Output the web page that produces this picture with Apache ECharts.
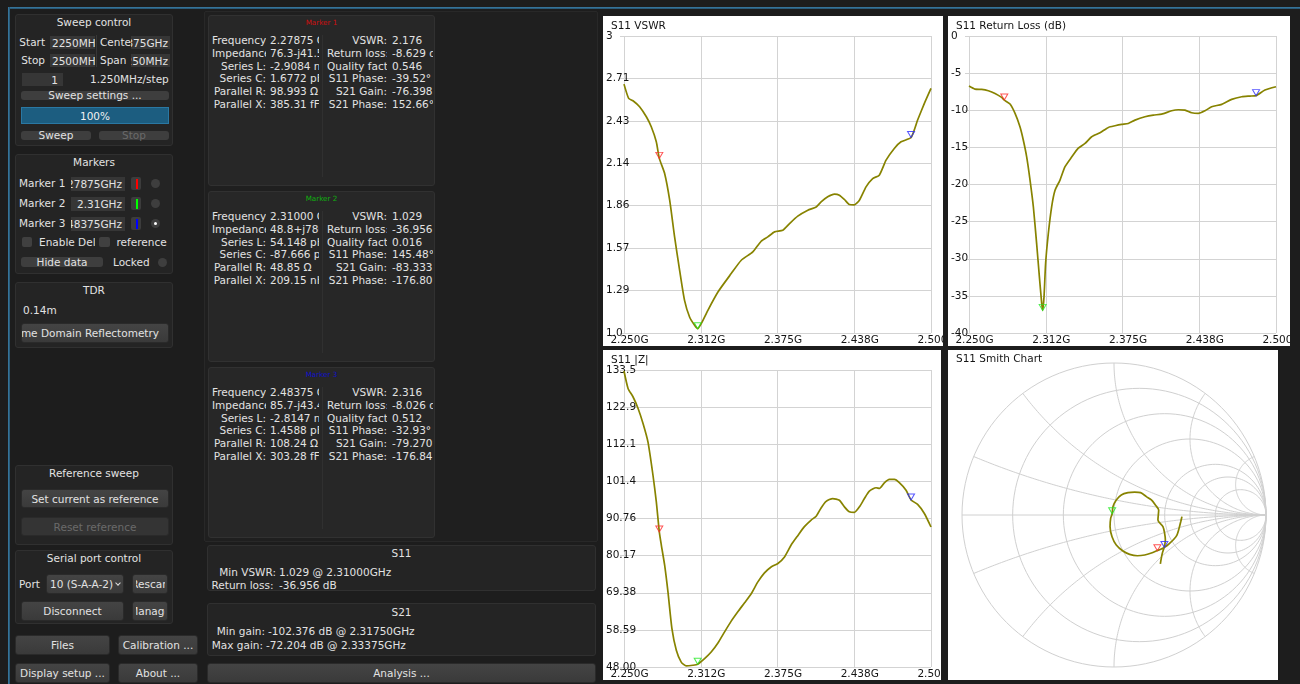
<!DOCTYPE html>
<html>
<head>
<meta charset="utf-8">
<title>NanoVNA-Saver</title>
<script src="https://cdn.jsdelivr.net/npm/echarts@6/dist/echarts.min.js"></script>
<style>
html,body{margin:0;padding:0}
body{width:1300px;height:684px;background:#1d1d1d;position:relative;overflow:hidden;
  font-family:'DejaVu Sans',sans-serif;font-size:10.5px;color:#e2e2e2}
.p{position:absolute;box-sizing:border-box;white-space:nowrap}
.box{background:#242424;border:1px solid #303030;border-radius:3px}
.txt{line-height:13px;height:13px}
.fld{background:#363636;overflow:hidden;display:flex;align-items:center;padding:0 2px}
.btn{background:linear-gradient(#444444,#3a3a3a);border:1px solid #2a2a2a;border-radius:3px;
  display:flex;align-items:center;justify-content:center;overflow:hidden}
.inner{overflow:hidden;display:flex;justify-content:center;white-space:nowrap}
.flat{background:#3e3e3e;border-radius:3px;display:flex;align-items:center;justify-content:center;line-height:9px}
.dis{color:#6a6a6a}
.btn.dis{background:#343434}
.chk{background:#404040;border-radius:2px}
.rad{background:#3e3e3e;border-radius:50%}
.chart{position:absolute;background:#ffffff;overflow:hidden}
</style>
</head>
<body>
<div id="ui"></div>
<div id="vswr" class="chart" style="left:603px;top:16px;width:340px;height:330px"></div>
<div id="rloss" class="chart" style="left:948px;top:16px;width:342px;height:330px"></div>
<div id="zmag" class="chart" style="left:603px;top:350px;width:338px;height:330px"></div>
<div id="smith" class="chart" style="left:948px;top:350px;width:330px;height:330px"></div>
<script>
// ---- sweep: 2250 MHz .. 2500 MHz ----
const freqMin = 2250;
const freqMax = 2500;
const freqStep = 62.5;
const freqTickLabels = ['2.250G', '2.312G', '2.375G', '2.438G', '2.500G'];

// S11 VSWR trace
const vswrFreq = [2250, 2253.8, 2257.3, 2262.7, 2268.2, 2272.2, 2276.3, 2278.75, 2283.1, 2287.2, 2291.2, 2295.3,
  2299.3, 2303.4, 2307.5, 2310, 2312.9, 2318.3, 2326.5, 2337.3, 2345.5, 2354.9, 2361.7, 2367.1, 2372.6, 2379.3,
  2384.8, 2391.5, 2399.7, 2406.5, 2410.5, 2415.9, 2421.4, 2425.4, 2429.5, 2433.5, 2437.6, 2441.7, 2447.1, 2452.5,
  2457.9, 2463.4, 2470.1, 2475.6, 2483.75, 2489.1, 2494.6, 2500];
const vswrValue = [2.676, 2.580, 2.564, 2.524, 2.456, 2.389, 2.288, 2.176, 2.074, 1.894, 1.647, 1.422,
  1.22, 1.108, 1.052, 1.029, 1.063, 1.153, 1.276, 1.40, 1.49, 1.546, 1.618, 1.647, 1.681, 1.692,
  1.737, 1.787, 1.827, 1.849, 1.883, 1.917, 1.935, 1.928, 1.899, 1.865, 1.863, 1.894, 1.984, 2.04,
  2.063, 2.164, 2.243, 2.288, 2.316, 2.434, 2.546, 2.647];
const vswrTicks = [1.0, 1.2857, 1.5714, 1.8571, 2.1429, 2.4286, 2.7143, 3.0];
const vswrTickLabels = ['1.0', '1.29', '1.57', '1.86', '2.14', '2.43', '2.71', '3'];

// S11 return loss trace (dB)
const rlFreq = [2250, 2254.9, 2260.3, 2265.7, 2271.2, 2276.6, 2278.75, 2283.4, 2287.5, 2291.5, 2294.2, 2297,
  2299.7, 2302.4, 2305.1, 2307.3, 2309.2, 2310, 2311.1, 2312.4, 2314.6, 2317.3, 2320, 2324.1, 2328.2, 2333.6,
  2339, 2344.5, 2349.9, 2356.7, 2363.5, 2368.9, 2374.3, 2379.7, 2385.2, 2393.3, 2400.1, 2406.9, 2415, 2420.5,
  2425.9, 2431.3, 2436.8, 2442.2, 2447.6, 2455.8, 2463.9, 2472.1, 2478.8, 2483.75, 2491, 2500];
const rlValue = [-6.74, -7.15, -7.19, -7.37, -7.73, -8.27, -8.629, -9.17, -10.43, -12.22, -14.0, -16.3,
  -19.4, -23.0, -28.0, -32.4, -36.0, -36.956, -35.1, -30.6, -26.6, -23.0, -20.8, -19.4, -17.6, -16.3,
  -15.1, -14.47, -13.57, -13.03, -12.31, -12.09, -11.91, -11.78, -11.33, -10.88, -10.65, -10.52, -10.07, -9.93,
  -9.98, -10.34, -10.43, -10.07, -9.53, -9.21, -8.54, -8.18, -8.09, -8.026, -7.28, -6.83];

// S11 |Z| trace (ohm)
const zFreq = [2250, 2253.3, 2257.3, 2261.4, 2265.5, 2269.5, 2273.6, 2276.3, 2278.75, 2280.4, 2283.1, 2285.8,
  2289, 2292.6, 2296.6, 2300.7, 2306.1, 2310, 2315.6, 2321, 2326.5, 2331.9, 2337.3, 2342.7, 2348.2, 2353.6,
  2359, 2364.4, 2369.8, 2375.3, 2380.7, 2386.1, 2391.5, 2396.9, 2402.4, 2406.5, 2410.5, 2414.6, 2420, 2425.4,
  2429.5, 2433.5, 2437.6, 2441.7, 2445.8, 2449.8, 2455.3, 2458, 2462, 2466.1, 2470.2, 2474.2, 2479.7, 2483.75,
  2489.1, 2494.6, 2500];
const zValue = [133.2, 128.2, 125.8, 122.5, 118.1, 112.8, 103.2, 95.6, 86.9, 83.1, 77.3, 69.6,
  59.1, 52.8, 49.4, 48.3, 48.5, 48.8, 50.4, 52.3, 54.9, 58.1, 61.2, 63.9, 66.5, 69.1,
  72.5, 75.1, 76.8, 77.8, 79.7, 83.1, 85.8, 88.4, 90.3, 91.4, 93.8, 95.7, 96.5, 96.0,
  94.1, 92.7, 92.5, 94.1, 96.5, 98.6, 99.6, 99.4, 101.0, 102.0, 102.0, 101.1, 98.9, 96.1,
  94.8, 92.2, 88.3];
const zTicks = [48, 58.6875, 69.375, 80.0625, 90.75, 101.4375, 112.125, 122.8125, 133.5];
const zTickLabels = ['48.00', '58.59', '69.38', '80.17', '90.76', '101.4', '112.1', '122.9', '133.5'];

// S11 reflection coefficient (Smith chart trace), start -> stop
const smithRe = [0.447, 0.439, 0.428, 0.414, 0.395, 0.366, 0.340, 0.311, 0.283, 0.246, 0.202, 0.154, 0.103,
  0.059, 0.015, -0.013, -0.026, -0.022, -0.012, -0.007, 0.015, 0.048, 0.092, 0.136, 0.175, 0.213, 0.246,
  0.272, 0.294, 0.289, 0.322, 0.333, 0.338, 0.330, 0.318, 0.311, 0.305];
const smithIm = [-0.011, -0.044, -0.088, -0.132, -0.158, -0.186, -0.208, -0.224, -0.235, -0.250, -0.263, -0.268, -0.259,
  -0.237, -0.197, -0.143, -0.077, -0.022, 0.008, 0.055, 0.099, 0.132, 0.147, 0.151, 0.147, 0.121, 0.099,
  0.066, 0.033, -0.033, -0.077, -0.121, -0.164, -0.212, -0.252, -0.285, -0.322];
const smithResistance = [0, 0.2, 0.5, 1, 2, 3, 5];
const smithReactance = [0.2, 0.5, 1, 2, 5];

// markers
const markerFreq = [2278.75, 2310, 2483.75];
const markerVswr = [2.176, 1.029, 2.316];
const markerRl = [-8.629, -36.956, -8.026];
const markerR = [76.3, 48.8, 85.7];
const markerX = [-41.5, 0.78, -43.4];
const markerColors = ['#ff2a2a', '#22e822', '#2a2aff'];

// ---------------- application panels ----------------
const ui = document.getElementById('ui');
function put(x, y, w, h, cls, text, css) {
  const d = document.createElement('div');
  d.className = 'p ' + (cls || '');
  d.style.left = x + 'px';
  d.style.top = y + 'px';
  if (w != null) d.style.width = w + 'px';
  if (h != null) d.style.height = h + 'px';
  if (text != null) d.textContent = text;
  if (css) d.style.cssText += ';' + css;
  ui.appendChild(d);
  return d;
}
function txt(x, cy, text, css) { return put(x, cy - 6.5, null, 13, 'txt', text, css); }
function ctxt(x, w, cy, text, css) { return put(x, cy - 6.5, w, 13, 'txt', text, 'text-align:center;' + (css || '')); }
// push button whose caption is clipped inside its padding
function narrowBtn(x, y, w, h, text, pad) {
  const b = put(x, y, w, h, 'btn');
  const i = document.createElement('div');
  i.className = 'inner';
  i.style.width = (w - 2 - 2 * pad) + 'px';
  i.textContent = text;
  b.appendChild(i);
  return b;
}

// window frame
put(8, 7, 1292, 2, '', null, 'background:linear-gradient(#3b7fa8,#24506b)');
put(8, 7, 2, 677, '', null, 'background:linear-gradient(90deg,#3b7fa8,#24506b)');

// Sweep control
put(15, 14, 158, 132, 'box');
ctxt(15, 158, 22.5, 'Sweep control');
txt(10, 42.5, 'Start', 'width:35px;text-align:right');
put(50, 36, 45, 13, 'fld', '2250MHz');
put(96, 35, 1, 32, '', null, 'background:#383838');
txt(100, 42.5, 'Center');
put(131, 36, 39, 13, 'fld', '2.375GHz', 'justify-content:flex-end');
txt(10, 60.5, 'Stop', 'width:35px;text-align:right');
put(50, 54, 45, 13, 'fld', '2500MHz');
txt(100, 60.5, 'Span');
put(131, 54, 39, 13, 'fld', '250MHz', 'justify-content:flex-end');
put(22, 73, 41, 13, 'fld', '1', 'justify-content:flex-end;padding-right:5px');
txt(90, 79.5, '1.250MHz/step');
put(21, 91, 148, 9, 'flat', 'Sweep settings ...');
put(21, 107, 148, 17, '', '100%', 'background:#1c5d80;border:1px solid #2a78a3;display:flex;align-items:center;justify-content:center;color:#f2f2f2');
put(21, 131, 70, 9, 'flat', 'Sweep');
put(99, 131, 70, 9, 'flat dis', 'Stop');

// Markers
put(15, 154, 158, 120, 'box');
ctxt(15, 158, 162.7, 'Markers');
const markerFieldText = ['2.27875GHz', '2.31GHz', '2.48375GHz'];
for (let i = 0; i < 3; i++) {
  const cy = 183.5 + 20 * i;
  txt(19, cy, 'Marker ' + (i + 1));
  put(71, cy - 7, 54, 14.5, 'fld', markerFieldText[i], 'justify-content:flex-end;padding-right:3px');
  put(131, cy - 6.5, 10, 13, '', null, 'background:#3c3c3c;border-radius:2px');
  put(135.5, cy - 5, 2.5, 10, '', null, 'background:' + ['#ff0000', '#00ff00', '#0000ff'][i]);
  put(151, cy - 4.5, 9, 9, 'rad');
}
put(154, 222, 3, 3, '', null, 'background:#ffffff;border-radius:50%');
put(22, 237, 10, 10, 'chk');
put(39, 235.5, 56, 13, 'txt', 'Enable Delta Marker', 'overflow:hidden');
put(99, 237, 11, 10, 'chk');
txt(116.5, 242, 'reference');
put(21, 257, 82, 10, 'flat', 'Hide data');
txt(113, 262, 'Locked');
put(158, 257.5, 9, 9, 'rad');

// TDR
put(15, 282, 158, 66, 'box');
ctxt(15, 158, 290.5, 'TDR');
txt(23, 310, '0.14m');
put(21, 323, 148, 20, 'btn', 'Time Domain Reflectometry', 'justify-content:flex-end;padding-right:9px');

// Reference sweep
put(15, 465, 158, 80, 'box');
ctxt(15, 158, 473.5, 'Reference sweep');
put(21, 489, 148, 19, 'btn', 'Set current as reference');
put(21, 517, 148, 19, 'btn dis', 'Reset reference');

// Serial port control
put(15, 550, 158, 74, 'box');
ctxt(15, 158, 558.5, 'Serial port control');
txt(19, 584, 'Port');
put(46, 574, 78, 20, 'btn', '10 (S-A-A-2)', 'justify-content:flex-start;padding-left:3px');
put(116, 581, 4, 4, '', null, 'border-right:1px solid #dddddd;border-bottom:1px solid #dddddd;transform:rotate(45deg)');
narrowBtn(132, 574, 36, 20, 'Rescan', 2.5);
put(21, 601, 103, 20, 'btn', 'Disconnect');
narrowBtn(132, 601, 36, 20, 'Manage', 2.5);

// bottom buttons
put(15, 635, 95, 20, 'btn', 'Files');
put(118, 635, 80, 20, 'btn', 'Calibration ...');
put(15, 663, 95, 20, 'btn', 'Display setup ...');
put(118, 663, 80, 20, 'btn', 'About ...');

// marker readouts
put(204, 11, 394, 531, '', null, 'background:#1f1f1f;border:1px solid #282828;border-radius:2px');
const readouts = [
  { title: 'Marker 1', color: '#cc0f0f',
    left: [['Frequency:', '2.27875 GHz'], ['Impedance:', '76.3-j41.5 Ω'], ['Series L:', '-2.9084 nH'],
           ['Series C:', '1.6772 pF'], ['Parallel R:', '98.993 Ω'], ['Parallel X:', '385.31 fF']],
    right: [['VSWR:', '2.176'], ['Return loss:', '-8.629 dB'], ['Quality factor:', '0.546'],
            ['S11 Phase:', '-39.52°'], ['S21 Gain:', '-76.398 dB'], ['S21 Phase:', '152.66°']] },
  { title: 'Marker 2', color: '#10b010',
    left: [['Frequency:', '2.31000 GHz'], ['Impedance:', '48.8+j780m Ω'], ['Series L:', '54.148 pH'],
           ['Series C:', '-87.666 pF'], ['Parallel R:', '48.85 Ω'], ['Parallel X:', '209.15 nH']],
    right: [['VSWR:', '1.029'], ['Return loss:', '-36.956 dB'], ['Quality factor:', '0.016'],
            ['S11 Phase:', '145.48°'], ['S21 Gain:', '-83.333 dB'], ['S21 Phase:', '-176.80°']] },
  { title: 'Marker 3', color: '#1010cc',
    left: [['Frequency:', '2.48375 GHz'], ['Impedance:', '85.7-j43.4 Ω'], ['Series L:', '-2.8147 nH'],
           ['Series C:', '1.4588 pF'], ['Parallel R:', '108.24 Ω'], ['Parallel X:', '303.28 fF']],
    right: [['VSWR:', '2.316'], ['Return loss:', '-8.026 dB'], ['Quality factor:', '0.512'],
            ['S11 Phase:', '-32.93°'], ['S21 Gain:', '-79.270 dB'], ['S21 Phase:', '-176.84°']] }
];
readouts.forEach((m, k) => {
  const top = 15 + 176 * k;
  put(208, top, 227, 171, '', null, 'background:#272727;border:1px solid #313131;border-radius:3px');
  put(208, top + 3, 227, 10, '', m.title, 'text-align:center;font-size:7.2px;line-height:10px;color:' + m.color);
  put(322, top + 20, 1, 142, '', null, 'background:#303030');
  for (let i = 0; i < 6; i++) {
    const cy = top + 25.3 + 12.85 * i;
    put(212, cy - 6.5, 54, 13, 'txt', m.left[i][0], 'text-align:right;overflow:hidden');
    put(270, cy - 6.5, 49, 13, 'txt', m.left[i][1], 'overflow:hidden');
    put(327, cy - 6.5, 60, 13, 'txt', m.right[i][0], 'text-align:right;overflow:hidden');
    put(392, cy - 6.5, 41, 13, 'txt', m.right[i][1], 'overflow:hidden');
  }
});

// S11 / S21 summaries
put(207, 545, 389, 46, 'box');
ctxt(207, 389, 553, 'S11');
put(200, 565.5, 76, 13, 'txt', 'Min VSWR:', 'text-align:right');
txt(279, 572, '1.029 @ 2.31000GHz');
put(200, 578.5, 73.5, 13, 'txt', 'Return loss:', 'text-align:right');
txt(279, 585, '-36.956 dB');
put(207, 603, 389, 53, 'box');
ctxt(207, 389, 612, 'S21');
put(200, 624.5, 65, 13, 'txt', 'Min gain:', 'text-align:right');
txt(268, 631, '-102.376 dB @ 2.31750GHz');
put(200, 638.5, 63, 13, 'txt', 'Max gain:', 'text-align:right');
txt(266, 645, '-72.204 dB @ 2.33375GHz');
put(207, 663, 389, 20, 'btn', 'Analysis ...');

// ---------------- charts ----------------
const FONT = 'DejaVu Sans';
const FS = 10.5;
const TRACE = '#878300';
const GRIDC = '#d3d3d3';
const TEXTC = '#141414';
const markerSymbol = 'path://M0,0L10,0L5,9Z';

function nearestLabel(ticks, labels, v) {
  let best = 0;
  for (let i = 1; i < ticks.length; i++) {
    if (Math.abs(ticks[i] - v) < Math.abs(ticks[best] - v)) best = i;
  }
  return labels[best];
}

function markerSeries(points) {
  return {
    type: 'scatter',
    data: points.map((p, i) => ({ value: p, itemStyle: { borderColor: markerColors[i] } })),
    symbol: markerSymbol,
    symbolSize: [7, 6],
    symbolOffset: [0, -3],
    itemStyle: { color: 'rgba(0,0,0,0)', borderWidth: 1 },
    silent: true,
    z: 5
  };
}

function sweepChart(id, title, freqs, values, yAxis, markerValues) {
  const chart = echarts.init(document.getElementById(id));
  chart.setOption({
    animation: false,
    backgroundColor: '#ffffff',
    title: { text: title, left: 3, top: 0,
      textStyle: { fontFamily: FONT, fontSize: FS, fontWeight: 'normal', color: TEXTC } },
    grid: { left: 21, top: 20, width: 307, height: 297, containLabel: false, outerBoundsMode: 'none' },
    xAxis: {
      type: 'value', min: freqMin, max: freqMax, interval: freqStep,
      axisLine: { show: false }, axisTick: { show: false },
      splitLine: { show: true, lineStyle: { color: GRIDC, width: 1 } },
      axisLabel: { fontFamily: FONT, fontSize: FS, color: TEXTC, margin: 2, padding: [0, 0, 0, 11],
        formatter: (v) => freqTickLabels[Math.round((v - freqMin) / freqStep)] }
    },
    yAxis: Object.assign({
      type: 'value',
      axisLine: { show: false },
      splitLine: { show: true, lineStyle: { color: GRIDC, width: 1 } }
    }, yAxis),
    series: [
      { type: 'line', data: freqs.map((f, i) => [f, values[i]]), showSymbol: false, smooth: 0.2,
        lineStyle: { color: TRACE, width: 1.7 }, itemStyle: { color: TRACE }, silent: true, z: 3 },
      markerSeries(markerFreq.map((f, i) => [f, markerValues[i]]))
    ]
  });
}

const yLabelStyle = { fontFamily: FONT, fontSize: FS, color: TEXTC, align: 'left', margin: 18, padding: [0, 0, 2, 0] };

sweepChart('vswr', 'S11 VSWR', vswrFreq, vswrValue, {
  min: 1, max: 3,
  axisTick: { show: true, length: 4, lineStyle: { color: GRIDC }, customValues: vswrTicks },
  axisLabel: Object.assign({ customValues: vswrTicks,
    formatter: (v) => nearestLabel(vswrTicks, vswrTickLabels, v) }, yLabelStyle)
}, markerVswr);

sweepChart('rloss', 'S11 Return Loss (dB)', rlFreq, rlValue, {
  min: -40, max: 0, interval: 5,
  axisTick: { show: true, length: 4, lineStyle: { color: GRIDC } },
  axisLabel: Object.assign({ formatter: (v) => String(v) }, yLabelStyle)
}, markerRl);

const markerZ = markerR.map((r, i) => Math.hypot(r, markerX[i]));
sweepChart('zmag', 'S11 |Z|', zFreq, zValue, {
  min: 48, max: 133.5,
  axisTick: { show: true, length: 4, lineStyle: { color: GRIDC }, customValues: zTicks },
  axisLabel: Object.assign({ customValues: zTicks,
    formatter: (v) => nearestLabel(zTicks, zTickLabels, v) }, yLabelStyle)
}, markerZ);

// Smith chart grid: [kind, value]; kind 0 = constant resistance, 1 = constant reactance, 2 = real axis
const smithGrid = [];
smithResistance.forEach((r) => smithGrid.push([0, r]));
smithReactance.forEach((x) => { smithGrid.push([1, x]); smithGrid.push([1, -x]); });
smithGrid.push([2, 0]);

function renderSmithGrid(params, api) {
  const kind = api.value(0);
  const v = api.value(1);
  const pts = [];
  const N = 120;
  if (kind === 0) {
    const cx = v / (1 + v), R = 1 / (1 + v);
    for (let k = 0; k <= N; k++) {
      const a = 2 * Math.PI * k / N;
      pts.push(api.coord([cx + R * Math.cos(a), R * Math.sin(a)]));
    }
  } else if (kind === 1) {
    const x = Math.abs(v), s = Math.sign(v), R = 1 / x;
    const a0 = -Math.PI / 2;
    let a1 = Math.atan2((x * x - 1) / x, -2);
    if (a1 > a0) a1 -= 2 * Math.PI;
    for (let k = 0; k <= N; k++) {
      const a = a0 + (a1 - a0) * k / N;
      pts.push(api.coord([1 + R * Math.cos(a), s * (R + R * Math.sin(a))]));
    }
  } else {
    pts.push(api.coord([-1, 0]), api.coord([1, 0]));
  }
  return { type: 'polyline', shape: { points: pts }, style: { stroke: '#d0d0d0', fill: null, lineWidth: 1 } };
}

// marker reflection coefficients from the marker impedances (50 ohm reference)
const markerGamma = markerR.map((r, i) => {
  const x = markerX[i];
  const d = (r + 50) * (r + 50) + x * x;
  return [(r * r - 2500 + x * x) / d, (100 * x) / d];
});

const smith = echarts.init(document.getElementById('smith'));
smith.setOption({
  animation: false,
  backgroundColor: '#ffffff',
  title: { text: 'S11 Smith Chart', left: 3, top: -1,
    textStyle: { fontFamily: FONT, fontSize: FS, fontWeight: 'normal', color: TEXTC } },
  grid: { left: 14, top: 13, width: 304, height: 304, containLabel: false, outerBoundsMode: 'none' },
  xAxis: { type: 'value', min: -1, max: 1, show: false },
  yAxis: { type: 'value', min: -1, max: 1, show: false },
  series: [
    { type: 'custom', renderItem: renderSmithGrid, data: smithGrid, silent: true, z: 1 },
    { type: 'line', data: smithRe.map((r, i) => [r, smithIm[i]]), showSymbol: false, smooth: 0.3,
      lineStyle: { color: TRACE, width: 1.7 }, itemStyle: { color: TRACE }, silent: true, z: 3 },
    markerSeries(markerGamma)
  ]
});
</script>
</body>
</html>
